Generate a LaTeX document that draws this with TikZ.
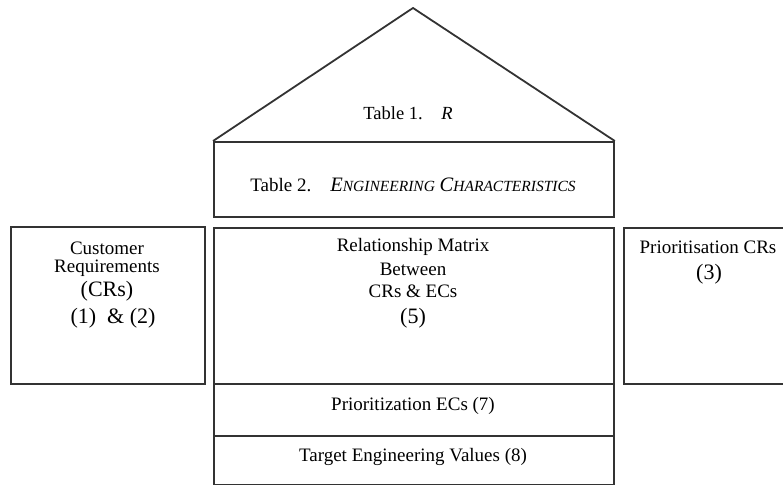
\documentclass[tikz,border=0pt]{standalone}
\usepackage{fontspec}
\setmainfont{Liberation Serif}
\usetikzlibrary{positioning}

\begin{document}
\begin{tikzpicture}
[x=1pt,y=-1pt,
 box/.style={draw=black!80,line width=1.8pt,inner sep=0pt,anchor=north west},
 txt/.style={inner sep=0pt,font=\fontsize{19}{22}\selectfont},
 big/.style={inner sep=0pt,font=\fontsize{22}{26}\selectfont}]
\clip (0,0) rectangle (783,484);

% roof and boxes
\node[box,minimum width=400pt,minimum height=75pt] (table2) at (213,141) {};
\node[box,minimum width=194pt,minimum height=157pt] (crs) at (10,226) {};
\node[box,minimum width=400pt,minimum height=156pt] (matrix) at (213,227) {};
\node[box,minimum width=400pt,minimum height=52pt] (prioEC) at (213,383) {};
\node[box,minimum width=400pt,minimum height=48.5pt] (target) at (213,435) {};
\node[box,minimum width=180pt,minimum height=156pt] (prioCR) at (623,227) {};
\coordinate (apex) at (413,8);
\draw[draw=black!80,line width=1.8pt,line join=round] (table2.north west) -- (apex) -- (table2.north east);

% texts
\node[inner sep=0pt,font=\fontsize{18.5}{20}\selectfont] (t1) at (408,113) {Table 1.\quad\textit{R}};
\node[inner sep=0pt,font=\fontsize{19}{22}\selectfont] (t2) at (413,185) {Table 2.\quad\textit{{\fontsize{20.5}{22}\selectfont E}{\fontsize{15.5}{18}\selectfont NGINEERING} {\fontsize{20.5}{22}\selectfont C}{\fontsize{15.5}{18}\selectfont HARACTERISTICS}}};

\node[txt] (cust1) at (107,248) {Customer};
\node[txt] (cust2) at (107,268) {Requirements};
\node[big] (cust3) at (107,291) {(CRs)};
\node[big] (cust4) at (113,318) {(1)~~\&~(2)};

\node[txt] (rel1) at (413,247) {Relationship Matrix};
\node[txt] (rel2) at (413,269) {Between};
\node[txt] (rel3) at (413,291) {CRs \& ECs};
\node[big] (rel4) at (413,318) {(5)};

\node[txt] (pcr1) at (708,247) {Prioritisation CRs};
\node[big] (pcr2) at (709,274) {(3)};

\node[txt] (pec) at (413,406) {Prioritization ECs (7)};
\node[txt] (tev) at (413,457) {Target Engineering Values (8)};
\end{tikzpicture}
\end{document}
